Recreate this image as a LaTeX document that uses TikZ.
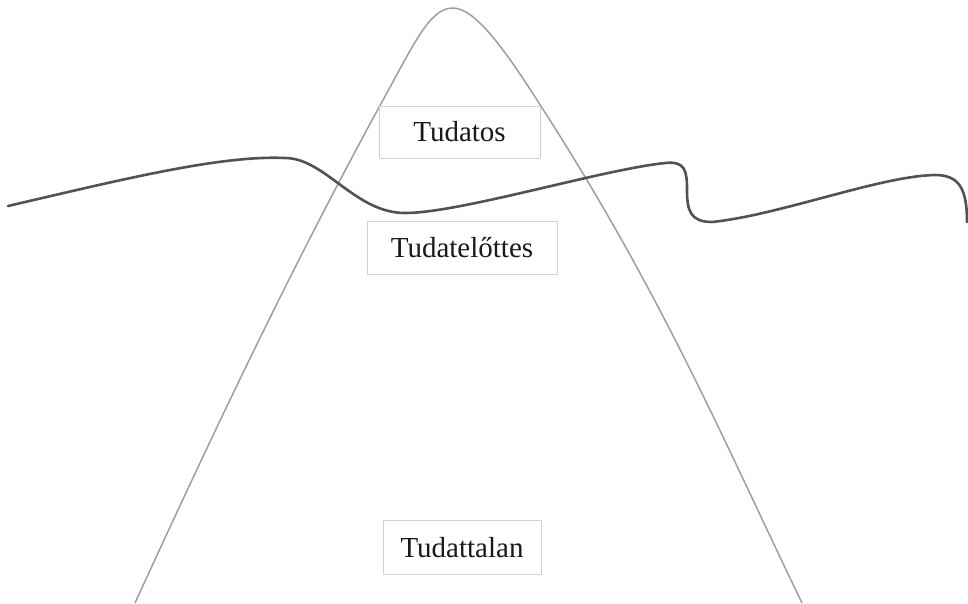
\documentclass[tikz,border=0pt]{standalone}
\usepackage{fontspec}
\setmainfont{Liberation Serif}
\begin{document}
\begin{tikzpicture}[x=1pt,y=-1pt,
  labelbox/.style={draw=gray!35, fill=white, line width=0.8pt, inner sep=0pt,
    font=\fontsize{29}{34}\selectfont, text=black!90},
  mountain/.style={draw=black!38, line width=1.5pt},
  wave/.style={draw=black!68, line width=2.6pt, line cap=round}]
\useasboundingbox (0,0) rectangle (968,603);
% mountain
\draw[mountain] (135,603) .. controls (213,433) and (290,270) .. (383,100)
  .. controls (415,42) and (430,8) .. (453,8)
  .. controls (475,8) and (505,50) .. (537,100)
  .. controls (660,290) and (720,433) .. (802,603);
% wave line
\draw[wave] (8,206) .. controls (120,180) and (220,155) .. (285,158)
  .. controls (325,158) and (355,213) .. (405,213)
  .. controls (460,213) and (600,170) .. (665,163)
  .. controls (685,161) and (687,170) .. (687,190)
  .. controls (687,210) and (690,222) .. (712,222)
  .. controls (780,215) and (880,176) .. (935,175)
  .. controls (960,175) and (967,190) .. (967,222);
% labels
\node[labelbox, minimum width=161pt, minimum height=52pt] (tudatos) at (459.5,132) {Tudatos};
\node[labelbox, minimum width=190pt, minimum height=53pt] (eloettes) at (462,247.5) {Tudatelőttes};
\node[labelbox, minimum width=158pt, minimum height=54pt] (tudattalan) at (462,547.5) {Tudattalan};
\end{tikzpicture}
\end{document}
